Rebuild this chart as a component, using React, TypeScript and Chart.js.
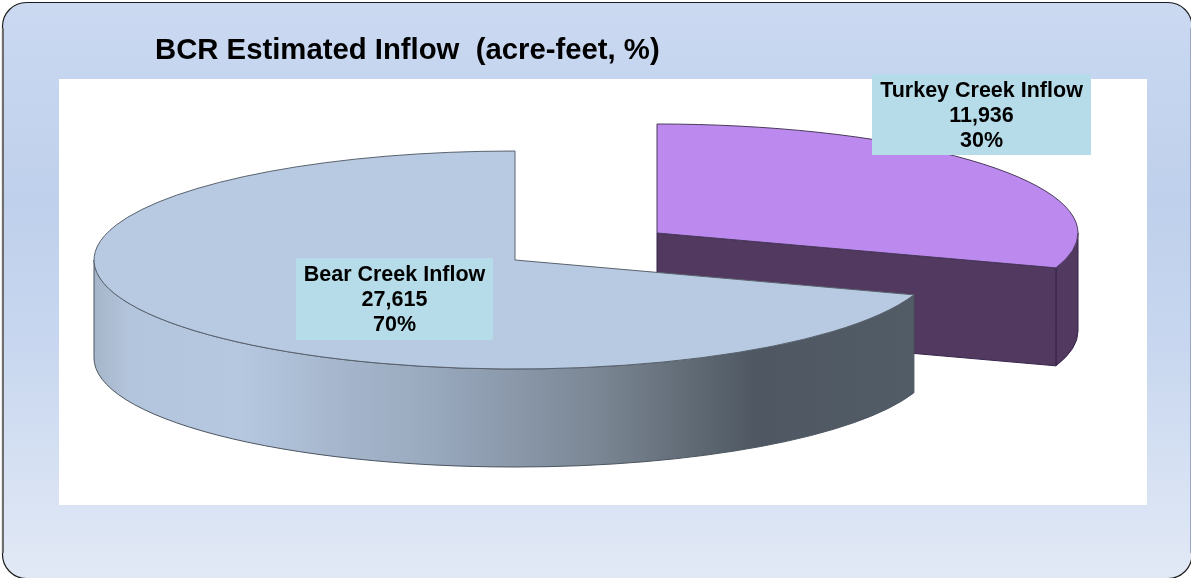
import React, { useEffect, useRef } from "react";
import { Chart, registerables } from "chart.js";

Chart.register(...registerables);

const categories = ["Turkey Creek Inflow", "Bear Creek Inflow"];
const inflowValues = [11936, 27615];
const percentLabels = ["30%", "70%"];
const sliceColors = ["#bc8aee", "#b7cae1"];
const titleText = "BCR Estimated Inflow  (acre-feet, %)";

const WIDTH = 1191;
const HEIGHT = 578;
const RX = 421;
const RY = 109;
const DEPTH = 98;
const centers = [
  { x: 657, y: 233 },
  { x: 515, y: 260 },
];
const labelBoxes = [
  { x: 872, y: 74, w: 219, h: 81 },
  { x: 296, y: 258, w: 197, h: 82 },
];

const bearWallStops: [number, string][] = [
  [94, "#a6b5c9"],
  [130, "#b3c5dc"],
  [240, "#b5c8e0"],
  [330, "#a7b8ce"],
  [430, "#99a9be"],
  [515, "#8a98aa"],
  [600, "#7a8693"],
  [680, "#636e79"],
  [755, "#4f5862"],
  [913, "#525c66"],
];

function wallPath(ctx: CanvasRenderingContext2D, c: { x: number; y: number }, a: number, b: number) {
  ctx.beginPath();
  ctx.ellipse(c.x, c.y, RX, RY, 0, a, b);
  ctx.lineTo(c.x + RX * Math.cos(b), c.y + RY * Math.sin(b) + DEPTH);
  ctx.ellipse(c.x, c.y + DEPTH, RX, RY, 0, b, a, true);
  ctx.closePath();
}

const pie3dPlugin = {
  id: "pie3d",
  beforeDraw(chart: any) {
    const ctx: CanvasRenderingContext2D = chart.ctx;
    ctx.save();
    const g = ctx.createLinearGradient(0, 0, 0, HEIGHT);
    g.addColorStop(0, "#cbd9f1");
    g.addColorStop(0.35, "#bfd0ec");
    g.addColorStop(0.6, "#c8d7ef");
    g.addColorStop(1, "#e2e9f6");
    ctx.beginPath();
    ctx.roundRect(2.5, 2.5, 1189.5, 576, 24);
    ctx.fillStyle = g;
    ctx.fill();
    ctx.lineWidth = 1.2;
    ctx.strokeStyle = "#1c1c1c";
    ctx.stroke();
    ctx.beginPath();
    ctx.moveTo(3, 28);
    ctx.lineTo(3, 553);
    ctx.lineWidth = 2;
    ctx.strokeStyle = "#6e6e6e";
    ctx.stroke();
    ctx.beginPath();
    ctx.moveTo(1190.5, 28);
    ctx.lineTo(1190.5, 553);
    ctx.lineWidth = 1;
    ctx.strokeStyle = "#9aa6c8";
    ctx.stroke();
    ctx.fillStyle = "#ffffff";
    ctx.fillRect(59, 79, 1088, 426);
    ctx.restore();
  },
  beforeDatasetsDraw(chart: any) {
    const ctx: CanvasRenderingContext2D = chart.ctx;
    const arcs = chart.getDatasetMeta(0).data;
    ctx.save();
    // Turkey Creek slice (index 0), pulled out to the back right
    {
      const arc = arcs[0];
      const c = centers[0];
      const end = arc.endAngle;
      const ex = c.x + RX * Math.cos(end);
      const ey = c.y + RY * Math.sin(end);
      ctx.fillStyle = "#52395f";
      ctx.strokeStyle = "#35234a";
      ctx.lineWidth = 1;
      wallPath(ctx, c, 0, end);
      ctx.fill();
      ctx.stroke();
      ctx.beginPath();
      ctx.moveTo(c.x, c.y);
      ctx.lineTo(ex, ey);
      ctx.lineTo(ex, ey + DEPTH);
      ctx.lineTo(c.x, c.y + DEPTH);
      ctx.closePath();
      ctx.fill();
      ctx.stroke();
      ctx.beginPath();
      ctx.moveTo(c.x, c.y);
      ctx.ellipse(c.x, c.y, RX, RY, 0, arc.startAngle, end);
      ctx.closePath();
      ctx.fillStyle = arc.options.backgroundColor;
      ctx.fill();
      ctx.strokeStyle = "#4a3a5e";
      ctx.stroke();
    }
    // Bear Creek slice (index 1)
    {
      const arc = arcs[1];
      const c = centers[1];
      const grad = ctx.createLinearGradient(94, 0, 913, 0);
      bearWallStops.forEach(([x, col]) => grad.addColorStop((x - 94) / (913 - 94), col));
      ctx.fillStyle = grad;
      ctx.strokeStyle = "#4c5560";
      ctx.lineWidth = 1;
      wallPath(ctx, c, arc.startAngle, Math.PI);
      ctx.fill();
      ctx.stroke();
      ctx.beginPath();
      ctx.moveTo(c.x, c.y);
      ctx.ellipse(c.x, c.y, RX, RY, 0, arc.startAngle, arc.endAngle);
      ctx.closePath();
      ctx.fillStyle = arc.options.backgroundColor;
      ctx.fill();
      ctx.strokeStyle = "#59626e";
      ctx.stroke();
    }
    ctx.restore();
    return false;
  },
  afterDraw(chart: any) {
    const ctx: CanvasRenderingContext2D = chart.ctx;
    ctx.save();
    categories.forEach((name, i) => {
      const b = labelBoxes[i];
      ctx.fillStyle = "#b5dce8";
      ctx.fillRect(b.x, b.y, b.w, b.h);
      ctx.fillStyle = "#000000";
      ctx.font = 'bold 21.5px "Liberation Sans"';
      ctx.textAlign = "center";
      ctx.textBaseline = "middle";
      const lines = [name, inflowValues[i].toLocaleString("en-US"), percentLabels[i]];
      lines.forEach((t, k) => ctx.fillText(t, b.x + b.w / 2, b.y + 17 + k * 25));
    });
    ctx.restore();
  },
};

export default function App() {
  const ref = useRef<HTMLCanvasElement>(null);
  useEffect(() => {
    const chart = new Chart(ref.current as HTMLCanvasElement, {
      type: "pie",
      data: {
        labels: categories,
        datasets: [{ data: inflowValues, backgroundColor: sliceColors, borderWidth: 0 }],
      },
      options: {
        responsive: false,
        animation: false,
        layout: { padding: { left: 155 } },
        plugins: {
          legend: { display: false },
          tooltip: { enabled: false },
          title: {
            display: true,
            text: titleText,
            align: "start",
            color: "#000000",
            font: { family: '"Liberation Sans"', size: 29.3, weight: "bold" },
            padding: { top: 33, bottom: 10 },
          },
        },
      },
      plugins: [pie3dPlugin],
    } as any);
    return () => chart.destroy();
  }, []);
  return (
    <div style={{ position: "fixed", left: 0, top: 0, width: WIDTH, height: HEIGHT }}>
      <canvas ref={ref} width={WIDTH} height={HEIGHT} style={{ display: "block" }} />
    </div>
  );
}
